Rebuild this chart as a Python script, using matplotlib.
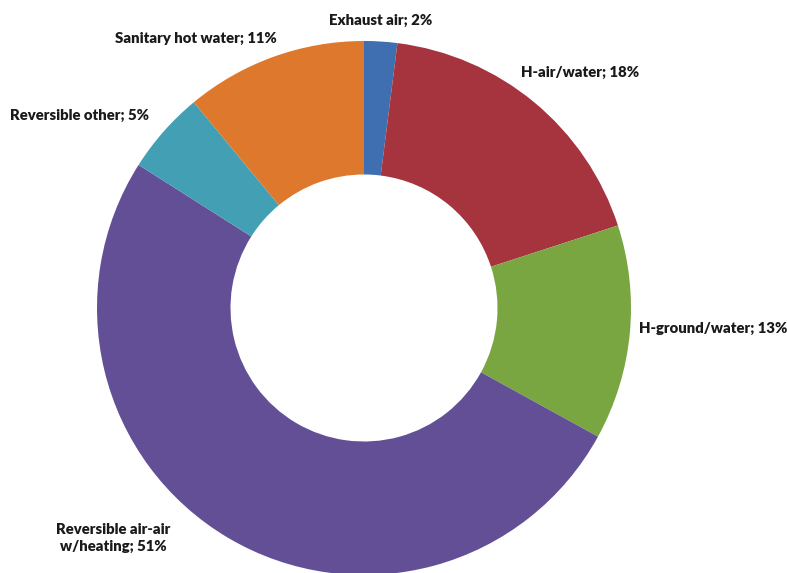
import matplotlib
matplotlib.use("Agg")
import matplotlib.pyplot as plt

categories = ["Exhaust air", "H-air/water", "H-ground/water",
              "Reversible air-air\nw/heating", "Reversible other", "Sanitary hot water"]
values = [2, 18, 13, 51, 5, 11]
colors = ["#3F6FB0", "#A5343E", "#7AA642", "#634F96", "#43A0B4", "#DD782D"]

# label anchor positions in pixels (layout only)
label_px = [(381, 20), (580, 72), (713, 328), (113, 538), (79, 115), (196, 38)]

W, H = 787, 573
fig = plt.figure(figsize=(W / 100, H / 100), dpi=100)
cx, cy, r = 364, 308, 267
ax = fig.add_axes([(cx - r) / W, (H - cy - r) / H, 2 * r / W, 2 * r / H])
ax.pie(values, colors=colors, startangle=90, counterclock=False, radius=1,
       wedgeprops=dict(width=0.5, edgecolor="none", linewidth=0))
ax.set_xlim(-1, 1)
ax.set_ylim(-1, 1)
ax.set_aspect("equal")
ax.axis("off")

for cat, v, (px, py) in zip(categories, values, label_px):
    fig.text(px / W, 1 - py / H, f"{cat}; {v}%", ha="center", va="center",
             fontsize=10.7, fontweight="heavy", family=["Lato", "DejaVu Sans"],
             color="#1a1a1a", linespacing=1.3)

fig.savefig("out.png", dpi=100)
